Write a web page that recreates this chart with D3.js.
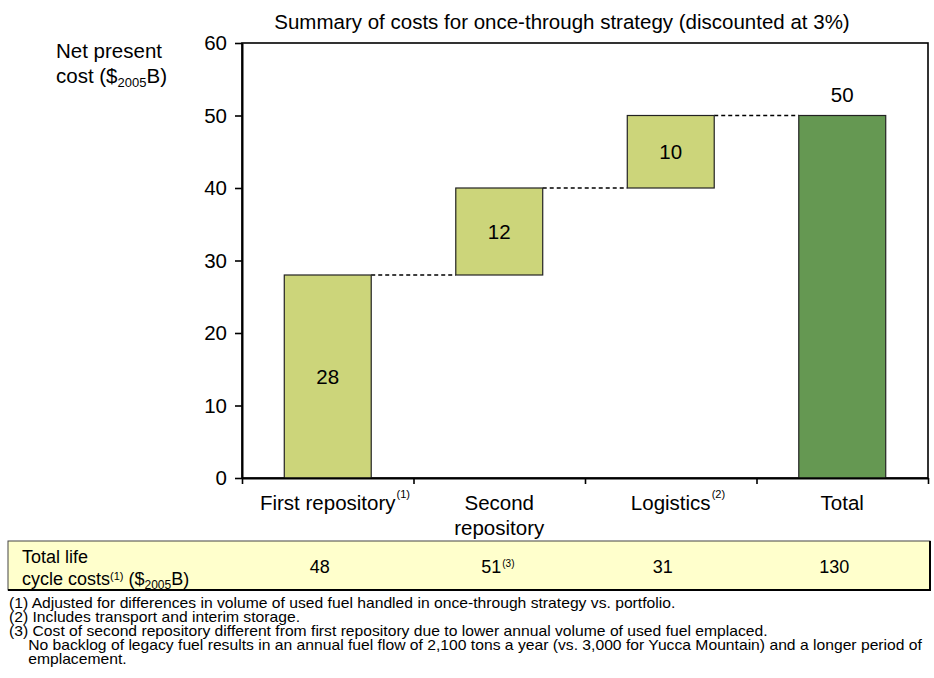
<!DOCTYPE html>
<html>
<head>
<meta charset="utf-8">
<script src="https://cdn.jsdelivr.net/npm/d3@7"></script>
<style>
  body { margin: 0; background: #fff; }
  svg text { font-family: "Liberation Sans", Arial, sans-serif; fill: #000; }
</style>
</head>
<body>
<div id="chart"></div>
<script>
// data
var categories = ["First repository", "Second repository", "Logistics", "Total"];
var catLines = [["First repository"], ["Second", "repository"], ["Logistics"], ["Total"]];
var catNotes = ["(1)", "", "(2)", ""];
var values = [28, 12, 10, 50];
var isTotal = [false, false, false, true];
var lifeCosts = ["48", "51", "31", "130"];
var lifeNotes = ["", "(3)", "", ""];
var yTicks = [0, 10, 20, 30, 40, 50, 60];
var footnotes = [
  "(1) Adjusted for differences in volume of used fuel handled in once-through strategy vs. portfolio.",
  "(2) Includes transport and interim storage.",
  "(3) Cost of second repository different from first repository due to lower annual volume of used fuel emplaced.",
  "No backlog of legacy fuel results in an annual fuel flow of 2,100 tons a year (vs. 3,000 for Yucca Mountain) and a longer period of",
  "emplacement."
];

var width = 934, height = 678;
var pLeft = 242, pRight = 928, pTop = 43, pBottom = 478;
var labelSize = "20.5px";

var svg = d3.select("#chart").append("svg")
    .attr("width", width)
    .attr("height", height);

var y = d3.scaleLinear().domain([0, 60]).range([pBottom, pTop]);
var x = d3.scaleBand().domain(categories).range([pLeft, pRight]).paddingInner(0).paddingOuter(0);
var xb = d3.scaleLinear().domain([0, categories.length]).range([pLeft, pRight]);
var barW = x.bandwidth() * 0.507;

// waterfall bases
var bases = [], run = 0;
values.forEach(function(v, i) {
  if (isTotal[i]) { bases.push(0); }
  else { bases.push(run); run += v; }
});

// title
svg.append("text")
    .attr("x", 562).attr("y", 29)
    .attr("text-anchor", "middle")
    .style("font-size", "20.5px")
    .text("Summary of costs for once-through strategy (discounted at 3%)");

// y label
svg.append("text").attr("x", 56).attr("y", 58).style("font-size", labelSize).text("Net present");
var yl = svg.append("text").attr("x", 56).attr("y", 83).style("font-size", labelSize);
yl.append("tspan").text("cost ($");
yl.append("tspan").attr("dy", 4).style("font-size", "13px").text("2005");
yl.append("tspan").attr("dy", -4).text("B)");

// frame (top + right)
svg.append("rect")
    .attr("x", pLeft).attr("y", pTop)
    .attr("width", pRight - pLeft).attr("height", pBottom - pTop)
    .attr("fill", "none").attr("stroke", "#000").attr("stroke-width", 1.6);

// dashed connectors
var conn = [];
values.forEach(function(v, i) {
  if (i < values.length - 1) {
    var lvl = isTotal[i] ? v : bases[i] + v;
    conn.push({ x1: x(categories[i]) + (x.bandwidth() + barW) / 2,
                x2: x(categories[i + 1]) + (x.bandwidth() - barW) / 2,
                v: lvl });
  }
});
svg.selectAll("line.conn").data(conn).enter().append("line")
    .attr("class", "conn")
    .attr("x1", function(d) { return d.x1; })
    .attr("x2", function(d) { return d.x2; })
    .attr("y1", function(d) { return y(d.v); })
    .attr("y2", function(d) { return y(d.v); })
    .attr("stroke", "#000").attr("stroke-width", 1.4)
    .attr("stroke-dasharray", "4,3");

// bars
svg.selectAll("rect.bar").data(values).enter().append("rect")
    .attr("class", "bar")
    .attr("x", function(d, i) { return x(categories[i]) + (x.bandwidth() - barW) / 2; })
    .attr("width", barW)
    .attr("y", function(d, i) { return y(bases[i] + d); })
    .attr("height", function(d, i) { return y(bases[i]) - y(bases[i] + d); })
    .attr("fill", function(d, i) { return isTotal[i] ? "#659852" : "#ccd57a"; })
    .attr("stroke", "#222").attr("stroke-width", 1.2);

// bar labels
svg.selectAll("text.val").data(values).enter().append("text")
    .attr("class", "val")
    .attr("x", function(d, i) { return x(categories[i]) + x.bandwidth() / 2; })
    .attr("y", function(d, i) {
      return isTotal[i] ? y(d) - 14 : y(bases[i] + d / 2) + 7;
    })
    .attr("text-anchor", "middle")
    .style("font-size", labelSize)
    .text(function(d) { return d; });

// axes
var yAxis = svg.append("g")
    .attr("transform", "translate(" + pLeft + ",0)")
    .call(d3.axisLeft(y).tickValues(yTicks).tickSize(7).tickSizeOuter(0).tickPadding(8));
yAxis.selectAll("text").style("font-size", labelSize).attr("fill", "#000");

var xAxis = svg.append("g")
    .attr("transform", "translate(0," + pBottom + ")")
    .call(d3.axisBottom(xb).tickValues(d3.range(categories.length + 1)).tickFormat("").tickSize(6).tickSizeOuter(0));

[yAxis, xAxis].forEach(function(g) {
  g.select(".domain").attr("stroke", "#000").attr("stroke-width", 2);
  g.selectAll(".tick line").attr("stroke", "#000").attr("stroke-width", 1.6);
});

// category labels
categories.forEach(function(c, i) {
  var cx = x(c) + x.bandwidth() / 2;
  var last;
  catLines[i].forEach(function(line, j) {
    last = svg.append("text")
        .attr("x", cx).attr("y", 510 + j * 25)
        .attr("text-anchor", "middle")
        .style("font-size", labelSize)
        .text(line);
  });
  if (catNotes[i]) {
    var w = last.node().getComputedTextLength();
    svg.append("text")
        .attr("x", cx + w / 2 + 1).attr("y", 498)
        .style("font-size", "11px")
        .text(catNotes[i]);
  }
});

// life cycle table
svg.append("rect")
    .attr("x", 8).attr("y", 541).attr("width", 922).attr("height", 49)
    .attr("fill", "#ffffcc").attr("stroke", "#444").attr("stroke-width", 1);
svg.append("line").attr("x1", 8).attr("x2", 931).attr("y1", 590).attr("y2", 590)
    .attr("stroke", "#000").attr("stroke-width", 2);
svg.append("line").attr("x1", 930).attr("x2", 930).attr("y1", 541).attr("y2", 591)
    .attr("stroke", "#000").attr("stroke-width", 2);

svg.append("text").attr("x", 22).attr("y", 563).style("font-size", "18px").text("Total life");
var tl = svg.append("text").attr("x", 22).attr("y", 585).style("font-size", "18px");
tl.append("tspan").text("cycle costs");
tl.append("tspan").attr("dy", -5).style("font-size", "11px").text("(1)");
tl.append("tspan").attr("dy", 5).text(" ($");
tl.append("tspan").attr("dy", 4).style("font-size", "12px").text("2005");
tl.append("tspan").attr("dy", -4).text("B)");

lifeCosts.forEach(function(v, i) {
  var cx = x(categories[i]) + x.bandwidth() / 2 - 8;
  var t = svg.append("text")
      .attr("x", cx).attr("y", 573)
      .attr("text-anchor", "middle")
      .style("font-size", "18px")
      .text(v);
  if (lifeNotes[i]) {
    var w = t.node().getComputedTextLength();
    svg.append("text")
        .attr("x", cx + w / 2 + 1).attr("y", 567)
        .style("font-size", "10px")
        .text(lifeNotes[i]);
  }
});

// footnotes (font is a bit wide in the original, so stretch horizontally)
var fnSize = "14px";
var fn = svg.append("g").attr("transform", "translate(9,0) scale(1.12,1)");
var probe = fn.append("text").style("font-size", fnSize).text("(3) ");
var indent = probe.node().getComputedTextLength();
probe.remove();
footnotes.forEach(function(f, i) {
  fn.append("text")
      .attr("x", i >= 3 ? indent : 0)
      .attr("y", 608 + i * 14)
      .style("font-size", fnSize)
      .text(f);
});
</script>
</body>
</html>
